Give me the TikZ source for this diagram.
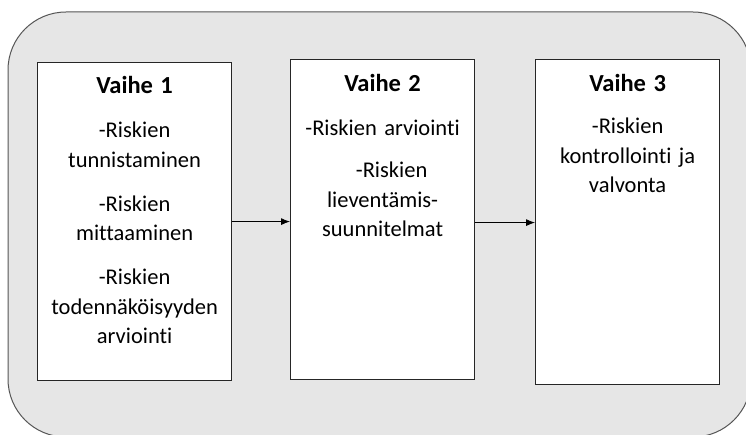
\documentclass[tikz,border=0pt]{standalone}
\usepackage{fontspec}
\setmainfont{Carlito}[Ligatures=NoCommon]
\usetikzlibrary{arrows.meta}
\definecolor{taustaharmaa}{RGB}{230,230,230}
\definecolor{reunaharmaa}{RGB}{85,85,85}
\newcommand{\vaiheotsikko}[1]{\rule{0pt}{20pt}{\bfseries\fontsize{24.5}{29.5}\selectfont #1}}
\begin{document}
    \begin{tikzpicture}[x=1pt,y=1pt,
            vaihe/.style={draw=black!85,line width=1.2pt,fill=white,anchor=north west},
            teksti/.style={anchor=north,inner sep=0pt,align=center,
                font=\fontsize{22.5}{29.5}\selectfont},
            nuoli/.style={-{Latex[length=9pt,width=7pt]},line width=0.8pt}]
        \useasboundingbox (0,0) rectangle (746,434);
        \filldraw [fill=taustaharmaa,draw=reunaharmaa,line width=1pt,rounded corners=58pt]
            (8,-3) rectangle (751,422);
        % the three phases
        \node [vaihe,minimum width=194pt,minimum height=318pt] (vaihe1) at (37,372) {};
        \node [vaihe,minimum width=184pt,minimum height=320pt] (vaihe2) at (290,375) {};
        \node [vaihe,minimum width=184pt,minimum height=325pt] (vaihe3) at (535,375) {};
        \node [teksti,text width=184pt] (teksti1) at ([yshift=-11.5pt]vaihe1.north) {
            \vaiheotsikko{Vaihe 1}\\[14.5pt]
            -Riskien\\ tunnistaminen\\[14.5pt]
            -Riskien\\ mittaaminen\\[14.5pt]
            -Riskien\\ todennäköisyyden\\ arviointi};
        \node [teksti,text width=176pt] (teksti2) at ([yshift=-12.5pt]vaihe2.north) {
            \vaiheotsikko{Vaihe 2}\\[14.5pt]
            -Riskien arviointi\\[12.5pt]
            \hspace*{18pt}-Riskien\\ lieventämis-\\ suunnitelmat};
        \node [teksti,text width=176pt] (teksti3) at ([yshift=-12.5pt]vaihe3.north) {
            \vaiheotsikko{Vaihe 3}\\[12.5pt]
            -Riskien\\ kontrollointi ja\\ valvonta};
        % arrows
        \draw [nuoli] (vaihe1.east) -- (vaihe1.east -| vaihe2.west);
        \draw [nuoli] ([yshift=-3pt]vaihe2.east) -- ([yshift=-3pt]vaihe2.east -| vaihe3.west);
    \end{tikzpicture}
\end{document}
